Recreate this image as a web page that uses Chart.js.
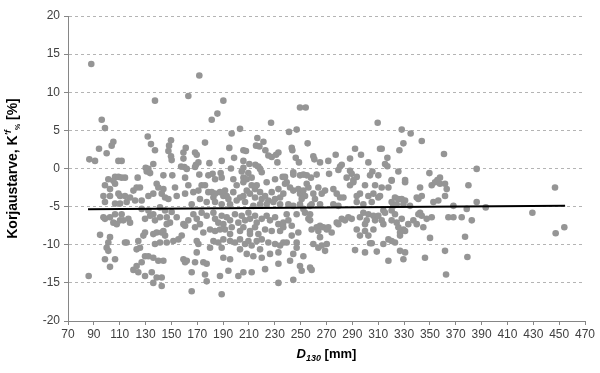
<!DOCTYPE html>
<html><head><meta charset="utf-8">
<script src="https://cdn.jsdelivr.net/npm/chart.js@4.4.1/dist/chart.umd.min.js"></script>
<style>html,body{margin:0;padding:0;background:#fff;}#wrap{width:600px;height:373px;}</style>
</head><body><div id="wrap"><canvas id="c" width="600" height="373"></canvas></div>
<script>
// D130 [mm] (x) and Korjaustarve [%] (y), grouped by region of the plot
const d130_g1 = [88,86.5,86];
const kf_g1   = [13.7,1.2,-14.1];
const d130_g2 = [137.3,163.1,96.1,98.6,131.7,105.1,103.8,94.0,99.9,134.2,137.3,109.0,111.5,90.9,149.7,148.2,147.7,149.7,150.2,159.3,161.1,159.3,157.5,160.0,161.9,130.1,132.2,130.9,136.0,143.8,150.7,101.2,106.4,109.0,111.5,114.1,123.9,160.6,133.5];
const kf_g2   = [8.9,9.5,6.4,5.3,4.2,3.5,3.0,2.6,2.0,3.2,2.4,1.0,1.0,1.0,3.7,3.0,2.3,1.6,1.1,2.1,2.7,1.3,0.25,0.2,-0.05,0.1,-0.05,-0.4,0.6,-0.9,-0.9,-1.4,-1.1,-1.1,-1.2,-1.2,-1.2,-1.2,-0.6];
const d130_g3 = [105.1,106.4,98.6,102.5,97.4,102.5,109.0,110.3,114.1,118.0,120.6,123.1,125.7,121.9,127.0,132.2,136.0,138.6,139.9,143.8,142.5,145.1,147.7,152.8,154.1,160.6,163.1,98.6,106.4,110.3,115.4];
const kf_g3   = [-1.6,-2.0,-2.2,-2.7,-3.6,-3.6,-3.3,-3.6,-3.6,-3.8,-2.9,-2.5,-2.5,-4.2,-4.2,-3.6,-3.3,-2.0,-2.5,-2.7,-3.3,-3.8,-4.0,-2.5,-3.6,-3.3,-2.2,-4.4,-4.6,-4.6,-4.4];
const d130_g4 = [97.4,98.6,102.5,106.4,105.1,107.7,110.3,112.8,116.7,118.0,111.5,129.6,133.5,136.0,137.3,141.2,146.4,146.4,148.9,154.1,159.3,160.6,163.1,127.0,132.2,141.2,145.1,150.2];
const kf_g4   = [-6.4,-6.6,-6.4,-6.0,-7.1,-7.3,-6.8,-6.8,-6.6,-7.1,-6.0,-6.6,-6.2,-6.0,-6.8,-6.4,-6.4,-7.3,-7.1,-6.4,-7.3,-7.5,-6.8,-5.3,-5.5,-5.1,-5.5,-5.7];
const d130_g5 = [94.8,102.5,101.2,99.9,124.4,128.3,129.6,136.0,138.6,142.5,143.8,145.1,151.5,155.4,158.0,114.1,115.4,137.3,141.2,146.4];
const kf_g5   = [-8.7,-9.0,-9.7,-10.4,-9.5,-8.8,-8.4,-8.6,-8.4,-8.4,-8.2,-8.8,-9.5,-9.3,-8.8,-9.7,-9.7,-9.9,-9.7,-9.7];
const d130_g6 = [101.2,98.6,106.4,102.5,123.1,125.7,129.6,132.2,136.0,139.9,143.8,127.0,123.1,120.6,124.4,129.6,134.8,138.6,142.5,136.0,142.5,159.3,161.9,160.6];
const kf_g6   = [-10.8,-11.9,-11.9,-12.9,-10.6,-10.4,-11.5,-11.5,-11.7,-12.1,-12.1,-12.3,-12.8,-13.3,-13.6,-14.1,-13.6,-14.3,-14.3,-15.0,-15.4,-11.9,-12.1,-12.3];
const d130_g7 = [171.6,190.2,185.6,181.2,227.1,203.1,196.6,176.0,194.8,205.7,207.7,216.5,221.2,215.5,218.1,222.7,225.0,227.6,231.0,232.8,168.3,169.6,170.9,169.0,168.3,179.4,188.9,198.5,205.7,232.0,210.3,215.0,217.3,218.6,219.9,196.1,205.7,204.4,209.5,171.6,178.6,181.9,183.8,188.1,188.9,197.9,205.7,208.3,212.1,230.2,236.1];
const kf_g7   = [12.2,8.9,7.2,6.4,6.0,5.2,4.6,3.4,2.7,2.4,2.3,4.0,3.5,3.0,2.9,2.4,1.7,1.5,1.8,2.1,2.1,1.8,0.8,0.5,0.2,0.7,1.0,1.4,1.0,0.8,0.6,0.5,0.25,-0.05,-0.5,0.0,0.1,-0.4,-0.6,-0.8,-0.9,-0.7,-1.4,-0.6,-1.2,-1.4,-1.2,-1.4,-1.2,-1.4,-1.1];
const d130_g8 = [167.0,170.9,173.4,176.0,178.6,181.2,182.5,183.8,187.6,190.2,192.8,191.5,194.1,197.9,200.5,203.1,205.7,208.3,210.8,212.1,214.7,216.0,218.6,219.9,222.5,225.0,227.6,230.2,232.8,234.1,236.6,237.9,177.3,183.8,188.9,195.4,200.5,207.0,213.4,218.6,223.7,228.9,234.1,165.7,172.1,205.7,223.7,214.7];
const kf_g8   = [-3.1,-2.9,-2.2,-2.2,-3.1,-3.1,-3.8,-3.3,-3.1,-3.6,-3.6,-2.9,-4.0,-3.1,-2.2,-3.8,-3.6,-2.9,-3.3,-2.2,-2.7,-2.2,-3.1,-4.0,-3.6,-4.2,-3.1,-4.0,-2.7,-3.8,-3.3,-2.0,-4.4,-4.4,-4.7,-4.7,-4.2,-4.4,-4.9,-4.7,-4.7,-4.4,-4.7,-4.7,-4.0,-1.8,-1.8,-3.8];
const d130_g9 = [167.0,169.6,173.4,177.3,182.5,183.8,186.3,188.9,190.2,192.8,191.5,195.4,199.2,201.8,204.4,207.0,209.6,210.8,214.7,216.0,219.9,223.7,226.3,230.2,232.8,236.6,168.3,172.1,174.7,179.9,183.8,187.6,196.7,203.1,205.7,210.8,214.7,217.3,222.5,227.6,234.1,236.6,195.4,210.8];
const kf_g9   = [-6.0,-6.6,-5.8,-6.2,-5.8,-6.6,-7.1,-6.2,-7.3,-6.4,-8.0,-6.8,-6.0,-7.1,-6.2,-6.8,-5.8,-6.6,-6.2,-7.1,-6.6,-6.2,-6.8,-6.4,-7.3,-7.1,-7.7,-7.3,-8.4,-8.0,-8.2,-8.0,-7.7,-8.2,-7.7,-8.2,-7.7,-8.6,-8.0,-8.2,-8.2,-7.7,-8.6,-8.6];
const d130_g10 = [170.9,169.6,182.5,186.3,190.2,195.4,199.2,203.1,207.0,209.6,212.1,216.0,219.9,225.0,230.2,234.1,236.6,179.9,188.9,203.1,218.6,208.3,213.4,219.9,226.3,169.6,190.2,195.4,232.8,168.3,174.7,177.3,194.1,205.7,212.1,222.5,232.8,165.7,176.0,187.6,177.3,201.8,165.7,188.9,232.8];
const kf_g10   = [-9.9,-9.5,-9.5,-9.7,-9.3,-9.5,-9.7,-9.3,-9.9,-9.5,-10.1,-9.5,-9.3,-9.7,-9.9,-10.1,-9.7,-10.4,-10.4,-10.6,-10.6,-11.2,-11.5,-11.7,-11.2,-11.0,-11.7,-11.9,-11.0,-12.3,-12.3,-12.5,-13.4,-13.6,-13.6,-13.2,-12.5,-13.6,-13.9,-14.1,-14.8,-14.1,-16.1,-16.5,-15.0];
const d130_g11 = [249.5,253.9,241.0,246.9,255.4,309.6,243.1,243.6,246.2,248.7,259.8,260.6,265.0,271.4,277.1,292.1,296.7,288.2,302.4,311.4,280.5,279.2,281.8,288.2,289.5,293.4,244.3,244.3,249.5,252.1,254.7,258.0,262.4,237.9,272.0,303.7,305.5,310.1,290.8,285.6];
const kf_g11   = [8.0,8.0,4.8,5.1,3.3,6.0,2.7,2.4,1.4,0.8,1.6,1.2,0.8,1.0,1.8,2.6,1.8,1.3,0.8,2.6,0.25,-0.2,0.5,-0.3,-0.7,-1.1,-0.5,-0.8,-0.9,-0.8,-0.9,-1.2,-0.8,-1.1,-0.7,-0.9,-0.4,-0.9,-1.5,-1.2];
const d130_g12 = [239.2,241.8,244.3,248.2,249.5,252.1,254.7,256.0,250.8,253.4,259.8,261.1,263.7,266.3,268.9,275.3,277.9,280.5,283.1,288.2,290.8,293.4,295.9,299.8,302.4,306.3,307.6,310.1,240.5,244.3,249.5,252.1,257.3,258.5,265.0,275.3,279.2,293.4,298.5,305.0];
const kf_g12   = [-1.8,-2.5,-2.9,-2.7,-3.3,-2.9,-2.0,-2.5,-4.0,-3.6,-3.3,-4.0,-2.5,-3.3,-2.9,-2.7,-3.3,-3.8,-3.8,-2.2,-1.8,-3.6,-3.3,-2.2,-3.6,-3.3,-2.2,-3.8,-4.7,-4.9,-4.7,-5.3,-4.9,-4.7,-4.7,-4.7,-4.9,-4.4,-4.7,-4.4];
const d130_g13 = [239.2,246.9,253.4,256.0,257.3,257.3,248.2,243.1,240.5,258.5,262.4,263.7,265.0,267.6,270.2,271.4,274.0,277.9,279.2,281.8,284.3,286.9,289.5,293.4,295.9,298.5,299.8,301.1,302.4,306.3,307.6,310.1,295.9,299.8,302.4,306.3];
const kf_g13   = [-6.0,-6.0,-5.8,-6.6,-6.0,-6.8,-8.4,-7.5,-6.8,-8.0,-7.7,-8.2,-7.5,-7.7,-8.0,-7.7,-8.4,-7.1,-7.3,-6.6,-6.8,-6.4,-6.6,-8.0,-6.4,-5.8,-7.3,-6.8,-6.0,-6.2,-6.8,-6.2,-8.8,-8.2,-8.8,-8.0];
const d130_g14 = [239.2,243.1,246.9,244.3,246.9,252.1,241.8,249.5,250.8,257.3,258.5,259.8,263.7,265.0,266.3,268.9,270.2,292.1,299.8,303.7,305.0,308.9,244.3];
const kf_g14   = [-9.7,-8.8,-9.7,-11.2,-10.4,-11.5,-12.1,-12.8,-13.4,-13.0,-13.3,-9.9,-10.4,-9.0,-10.1,-10.8,-9.9,-10.7,-11.0,-9.8,-9.8,-10.9,-14.6];
const d130_g15 = [328.2,335.1,329.5,326.4,343.7,312.7,317.1,315.3,317.1,360.9,325.6,349.6,357.8,355.8,320.4,330.8];
const kf_g15   = [5.1,4.6,3.3,2.4,3.6,2.6,1.4,0.6,0.3,1.9,-0.4,-0.6,-1.2,-1.5,-1.5,-1.5];
const d130_g16 = [312.7,317.9,320.4,330.8,342.4,351.4,354.0,357.8,361.7,363.0,361.7,379.8,311.4,323.0,325.6,328.2,330.8,329.5,320.4,321.7,324.3,334.6,339.8,343.7,341.1,352.7,356.5];
const kf_g16   = [-2.5,-2.5,-1.6,-1.8,-2.5,-2.2,-1.8,-2.0,-2.0,-2.7,-3.6,-2.2,-3.6,-3.8,-4.0,-4.0,-4.2,-4.7,-4.4,-4.9,-4.7,-4.9,-3.8,-3.6,-4.0,-4.4,-4.2];
const d130_g17 = [314.0,315.3,320.4,323.0,312.7,314.0,320.4,324.3,325.6,328.2,329.5,330.8,326.9,333.3,337.2,339.8,341.1,342.4,343.7,344.9,347.5,351.4,364.3,368.2,368.2,374.6,378.5,382.4];
const kf_g17   = [-5.5,-5.8,-5.5,-6.0,-6.8,-7.3,-6.8,-7.1,-7.7,-6.6,-8.0,-8.2,-8.4,-7.3,-6.8,-7.3,-6.0,-5.8,-6.2,-7.7,-6.6,-6.4,-6.4,-6.4,-4.9,-6.4,-5.3,-6.8];
const d130_g18 = [314.0,317.9,320.4,323.0,326.9,326.9,330.8,329.5,317.9,346.2,350.1,361.7,377.2,379.0,362.5];
const kf_g18   = [-9.9,-9.3,-9.5,-9.7,-8.8,-10.8,-11.0,-11.9,-12.1,-11.7,-9.1,-10.8,-8.95,-11.6,-13.9];
const d130_g19 = [386.2,386.2,393.2,429.3,446.8,447.3,454.0];
const kf_g19   = [-0.05,-4.4,-5.1,-5.8,-2.5,-8.5,-7.7];

// linear trend line end points
const trendX = [85.5, 454.6];
const trendY = [-5.35, -4.87];

// axis ranges / ticks
const xRange = [70, 470, 20];
const yRange = [-20, 20, 5];

const d130 = [].concat(d130_g1,d130_g2,d130_g3,d130_g4,d130_g5,d130_g6,d130_g7,d130_g8,d130_g9,d130_g10,d130_g11,d130_g12,d130_g13,d130_g14,d130_g15,d130_g16,d130_g17,d130_g18,d130_g19);
const kf = [].concat(kf_g1,kf_g2,kf_g3,kf_g4,kf_g5,kf_g6,kf_g7,kf_g8,kf_g9,kf_g10,kf_g11,kf_g12,kf_g13,kf_g14,kf_g15,kf_g16,kf_g17,kf_g18,kf_g19);

const FONT = "'Liberation Sans', Arial, sans-serif";

const titlePlugin = {
  id: 'titles',
  afterDraw(chart) {
    const ctx = chart.ctx;
    const ca = chart.chartArea;
    ctx.save();
    ctx.fillStyle = '#000';
    ctx.textBaseline = 'alphabetic';
    // X title: D130 [mm]
    const xs = [
      {t:'D', f:'italic bold 13px '+FONT, dy:0},
      {t:'130', f:'italic bold 9px '+FONT, dy:3},
      {t:' [mm]', f:'bold 13px '+FONT, dy:0}
    ];
    let w = 0;
    xs.forEach(s => { ctx.font = s.f; s.w = ctx.measureText(s.t).width; w += s.w; });
    let x0 = (ca.left + ca.right) / 2 - w / 2;
    const yb = 358;
    xs.forEach(s => { ctx.font = s.f; ctx.fillText(s.t, x0, yb + s.dy); x0 += s.w; });
    // Y title: Korjaustarve, K'f% [%]
    const ys = [
      {t:'Korjaustarve, K', f:'bold 14px '+FONT, dy:0},
      {t:'\u2032f', f:'italic bold 9px '+FONT, dy:-6},
      {t:'%', f:'bold 7px '+FONT, dy:3},
      {t:' [%]', f:'bold 14px '+FONT, dy:0}
    ];
    w = 0;
    ys.forEach(s => { ctx.font = s.f; s.w = ctx.measureText(s.t).width; w += s.w; });
    ctx.translate(17, (ca.top + ca.bottom) / 2);
    ctx.rotate(-Math.PI / 2);
    let p = -w / 2;
    ys.forEach(s => { ctx.font = s.f; ctx.fillText(s.t, p, s.dy); p += s.w; });
    ctx.restore();
  }
};

const pts = d130.map((x, i) => ({x: x, y: kf[i]}));
const trend = trendX.map((x, i) => ({x: x, y: trendY[i]}));

new Chart(document.getElementById('c'), {
  type: 'scatter',
  data: {
    datasets: [
      {
        type: 'line',
        data: trend,
        borderColor: '#000',
        borderWidth: 2,
        pointRadius: 0,
        fill: false,
        order: 0
      },
      {
        data: pts,
        backgroundColor: '#959595',
        borderWidth: 0,
        pointRadius: 3.3,
        pointHoverRadius: 3.3,
        order: 1
      }
    ]
  },
  options: {
    responsive: false,
    animation: false,
    devicePixelRatio: 1,
    layout: { padding: { left: 0, right: 15, top: 16, bottom: 0 } },
    plugins: { legend: { display: false }, tooltip: { enabled: false } },
    scales: {
      x: {
        type: 'linear',
        min: xRange[0], max: xRange[1],
        ticks: { stepSize: xRange[2], color: '#404040', font: { family: FONT, size: 12 }, padding: 2, maxRotation: 0, autoSkip: false },
        grid: { display: true, drawOnChartArea: false, drawTicks: true, tickLength: 4, color: '#868686' },
        border: { display: true, color: '#868686', width: 1 },
        afterFit(scale) { scale.height = 52; }
      },
      y: {
        type: 'linear',
        min: yRange[0], max: yRange[1],
        ticks: { stepSize: yRange[2], color: '#404040', font: { family: FONT, size: 12 }, padding: 4 },
        grid: { display: true, color: '#b4b4b4', tickLength: 4, tickColor: '#868686', drawTicks: true },
        border: { display: true, color: '#868686', width: 1, dash: [3, 3] },
        afterFit(scale) { scale.width = 68; }
      }
    }
  },
  plugins: [titlePlugin]
});
</script>
</body></html>
